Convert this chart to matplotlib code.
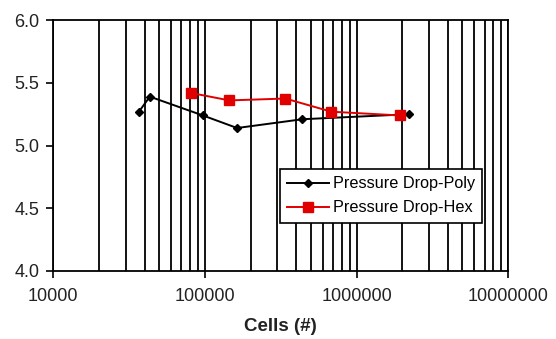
import matplotlib
matplotlib.use("Agg")
import matplotlib.pyplot as plt
from matplotlib.ticker import LogLocator, FixedLocator, NullFormatter

plt.rcParams["font.family"] = ["Liberation Sans", "DejaVu Sans"]

# data
poly_cells = [36700, 43300, 97000, 163000, 440000, 2230000]
poly_dp = [5.27, 5.39, 5.24, 5.14, 5.21, 5.25]

hex_cells = [80500, 145000, 339000, 682000, 1940000]
hex_dp = [5.42, 5.36, 5.375, 5.27, 5.24]

x_ticks = [1e4, 1e5, 1e6, 1e7]
x_labels = ["10000", "100000", "1000000", "10000000"]
y_ticks = [4.0, 4.5, 5.0, 5.5, 6.0]

fig = plt.figure(figsize=(5.56, 3.39), dpi=100)
ax = fig.add_axes([0.0959, 0.2006, 0.818, 0.740])

ax.set_xscale("log")
ax.set_xlim(1e4, 1e7)
ax.set_ylim(4.0, 6.0)

# vertical grid at every log step
grid_x = [m * 10 ** d for d in range(4, 7) for m in range(1, 10)] + [1e7]
for gx in grid_x:
    ax.axvline(gx, color="black", lw=1.3, zorder=1)

ax.plot(poly_cells, poly_dp, color="black", marker="D", markersize=4.5,
        lw=1.4, label="Pressure Drop-Poly", zorder=3)
ax.plot(hex_cells, hex_dp, color="#e00000", marker="s", markersize=7.5,
        lw=1.4, label="Pressure Drop-Hex", zorder=3)

ax.xaxis.set_major_locator(FixedLocator(x_ticks))
ax.set_xticklabels(x_labels)
ax.xaxis.set_minor_locator(LogLocator(base=10, subs=range(2, 10)))
ax.xaxis.set_minor_formatter(NullFormatter())
ax.tick_params(axis="x", which="minor", length=0)
ax.set_yticks(y_ticks)
ax.set_yticklabels([f"{v:.1f}" for v in y_ticks])

ax.tick_params(axis="both", which="major", direction="out", length=5,
               width=1.2, labelsize=13, colors="black", labelcolor="#222222")
ax.tick_params(axis="x", pad=7)
ax.tick_params(axis="y", pad=5)

for side in ["left", "bottom", "top", "right"]:
    ax.spines[side].set_linewidth(1.3)

ax.set_xlabel("Cells (#)", fontsize=13.5, fontweight="bold", labelpad=9.5,
              color="#222222")

leg = ax.legend(loc="upper left", bbox_to_anchor=(0.498, 0.406),
                fontsize=11.7, frameon=True, fancybox=False, framealpha=1,
                edgecolor="black", borderpad=0.45, handlelength=2.6,
                handletextpad=0.2, labelspacing=0.55, borderaxespad=0)
leg.get_frame().set_linewidth(1.2)
leg.set_zorder(5)

fig.savefig("out.png", dpi=100)
